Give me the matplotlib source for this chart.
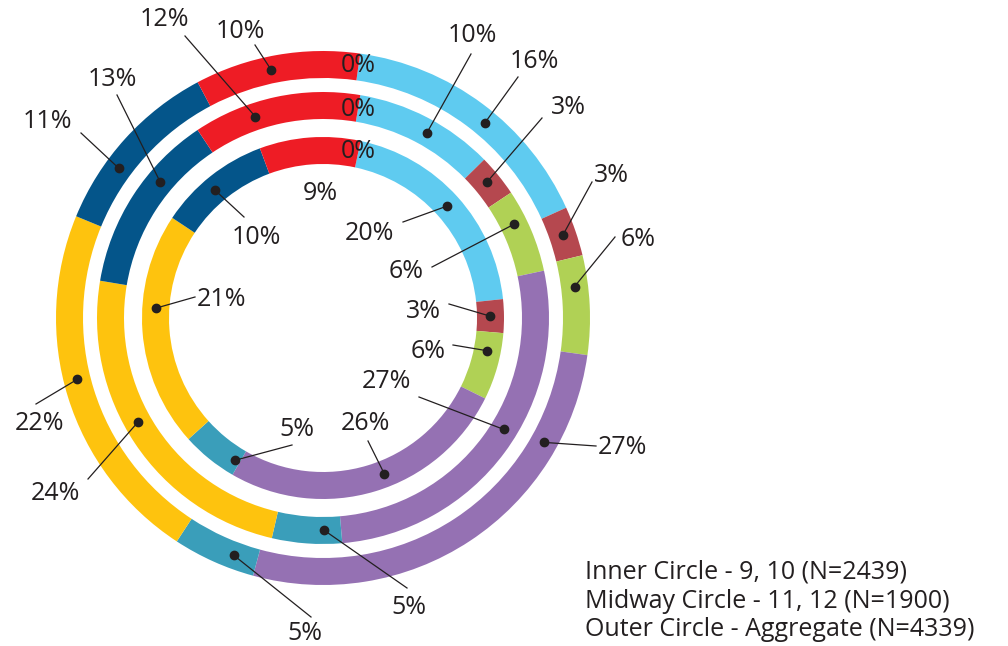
import matplotlib.pyplot as plt
import numpy as np

plt.rcParams['font.family'] = ['Open Sans', 'DejaVu Sans']

# slices clockwise from the top: (0% slot), light blue, dark red, green, purple, teal, yellow, dark blue, red
colors = ['#EE1C25', '#5FCBF0', '#B5484F', '#B0D155', '#9571B3', '#3A9EBA', '#FEC30E', '#04558A', '#EE1C25']
inner = [0, 20, 3, 6, 26, 5, 21, 10, 9]
midway = [0, 10, 3, 6, 27, 5, 24, 13, 12]
outer = [0, 16, 3, 6, 27, 5, 22, 11, 10]
notes = ['Inner Circle - 9, 10 (N=2439)',
         'Midway Circle - 11, 12 (N=1900)',
         'Outer Circle - Aggregate (N=4339)']

W, H = 1008, 646
ink = '#231F20'

def Y(y):
    # pixel row -> data y
    return H - y

# layout: label centres, leader ends (pixels) and where along the slice the dot sits
outer_txt = [(358, 66), (534, 62), (611, 176), (638, 240), (622, 448), (305, 634), (40, 424), (47, 121), (240, 32)]
outer_lead = [None, (518, 77), (592, 182), (615, 237), (596, 446), (311, 617), (36, 404), (81, 133), (255, 45)]
outer_pos = [0, 0.55, 0.5, 0.3, 0.22, 0.3, 0.54, 0.35, 0.45]
mid_txt = [(358, 109), (472, 36), (568, 108), (406, 272), (386, 382), (409, 608), (55, 493), (112, 79), (164, 19)]
mid_lead = [None, (471, 54), (542, 118), (432, 267), (419, 397), (407, 588), (88, 479), (117, 95), (185, 36)]
mid_pos = [0, 0.55, 0.45, 0.35, 0.45, 0.25, 0.55, 0.65, 0.35]
inner_txt = [(358, 152), (369, 233), (423, 312), (428, 351), (365, 423), (297, 430), (221, 300), (256, 237), (320, 193)]
inner_lead = [None, (403, 222), (449, 304), (453, 345), (368, 441), (292, 445), (195, 297), (244, 217), None]
inner_pos = [0, 0.5, 0.5, 0.3, 0.45, 0.1, 0.6, 0.45, 0]

fig = plt.figure(figsize=(W / 100, H / 100), dpi=100)
ax = fig.add_axes([0, 0, 1, 1])

cx, cy = 323, Y(318)
rings = [
    (outer, 267, 82, outer_txt, outer_lead, outer_pos),
    (midway, 226, 80.5, mid_txt, mid_lead, mid_pos),
    (inner, 181, 78, inner_txt, inner_lead, inner_pos),
]

for vals, rad, start, txts, leads, pos in rings:
    wedges, _ = ax.pie(vals, colors=colors, radius=rad, center=(cx, cy), startangle=start,
                       counterclock=False,
                       wedgeprops=dict(width=27, linewidth=0, edgecolor='none'))
    for i, w in enumerate(wedges):
        tx, ty = txts[i]
        ax.text(tx, Y(ty), f'{vals[i]}%', ha='center', va='center', fontsize=18, color=ink)
        if leads[i] is None:
            continue
        # clockwise slices: theta2 is where the slice starts
        th = np.radians(w.theta2 - pos[i] * (w.theta2 - w.theta1))
        rm = w.r - w.width / 2
        dx, dy = cx + rm * np.cos(th), cy + rm * np.sin(th)
        lx, ly = leads[i]
        ax.plot([dx, lx], [dy, Y(ly)], color=ink, lw=0.9)
        ax.plot(dx, dy, 'o', color=ink, ms=6)

for k, s in enumerate(notes):
    ax.text(585, Y(572 + 29 * k), s, ha='left', va='center', fontsize=18, color=ink)

ax.set_xlim(0, W)
ax.set_ylim(0, H)
ax.set_aspect('equal')
ax.axis('off')
fig.savefig('out.png', dpi=100)
